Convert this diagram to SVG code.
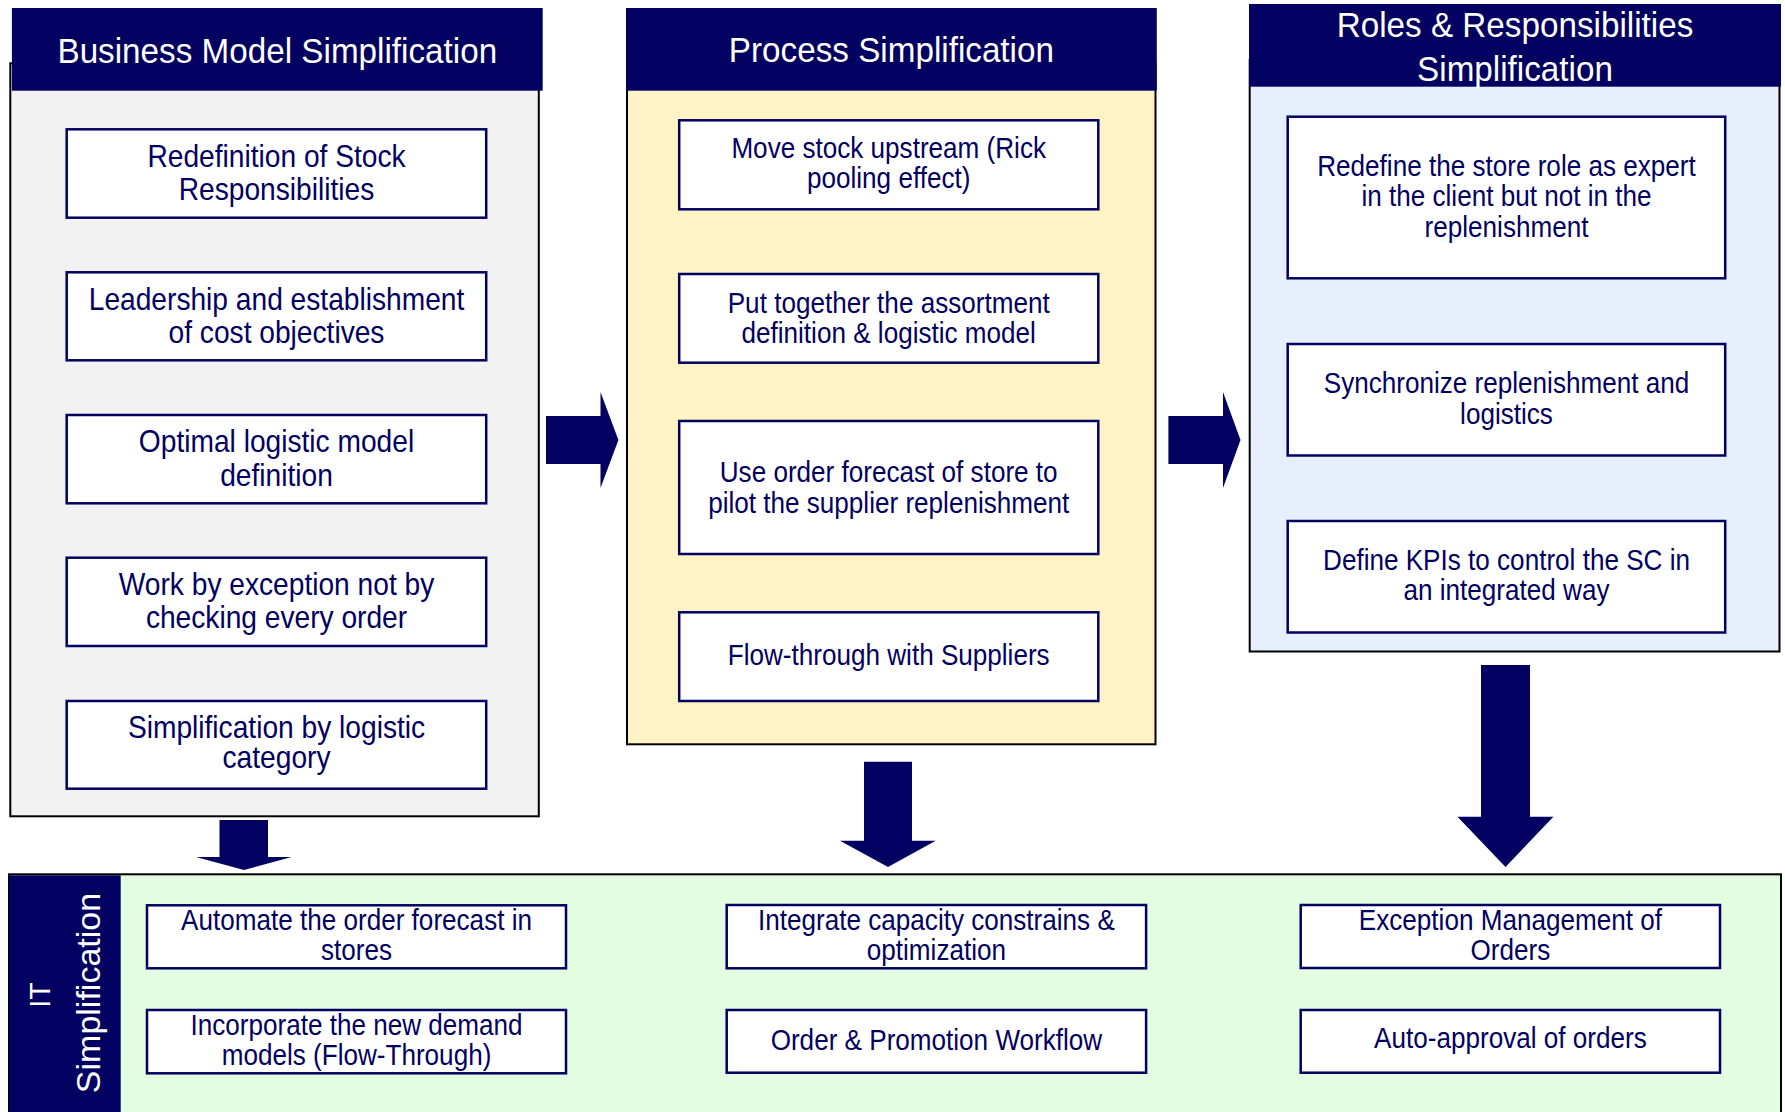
<svg xmlns="http://www.w3.org/2000/svg" width="1785" height="1112" viewBox="0 0 1785 1112">
  <style>
    .panel { stroke: #000000; stroke-width: 2; }
    .hdr { fill: #020060; }
    .box { fill: #ffffff; stroke: #020060; stroke-width: 2.5; }
    .arrow { fill: #020060; }
    text { font-family: "Liberation Sans", Arial, sans-serif; text-anchor: middle; }
    .ht { fill: #ffffff; font-size: 35px; }
    .t32 { fill: #020060; font-size: 32px; }
    .t29 { fill: #020060; font-size: 29px; }
    .vt { fill: #ffffff; font-size: 34px; }
    .vs { fill: #ffffff; font-size: 30px; }
  </style>

  <!-- Business Model Simplification column -->
  <g id="business-model">
    <rect class="panel" x="10.3" y="63.3" width="528.5" height="753" fill="#f2f2f2"/>
    <rect class="hdr" x="11.9" y="8" width="530.8" height="82.7"/>
    <g transform="translate(277.3 0) scale(0.95 1)">
      <text class="ht" x="0" y="63.3">Business Model Simplification</text>
    </g>
  </g>
  <g id="bm-stock">
    <rect class="box" x="66.7" y="129.3" width="419.5" height="88.4"/>
    <g transform="translate(276.5 0) scale(0.88 1)">
      <text class="t32"><tspan x="0" y="166.7">Redefinition of Stock</tspan><tspan x="0" y="200">Responsibilities</tspan></text>
    </g>
  </g>
  <g id="bm-leadership">
    <rect class="box" x="66.7" y="272.3" width="419.5" height="88"/>
    <g transform="translate(276.5 0) scale(0.88 1)">
      <text class="t32"><tspan x="0" y="310">Leadership and establishment</tspan><tspan x="0" y="343">of cost objectives</tspan></text>
    </g>
  </g>
  <g id="bm-logistic-model">
    <rect class="box" x="66.7" y="415" width="419.5" height="88.3"/>
    <g transform="translate(276.5 0) scale(0.88 1)">
      <text class="t32"><tspan x="0" y="452.3">Optimal logistic model</tspan><tspan x="0" y="486">definition</tspan></text>
    </g>
  </g>
  <g id="bm-exception">
    <rect class="box" x="66.7" y="557.7" width="419.5" height="88.3"/>
    <g transform="translate(276.5 0) scale(0.88 1)">
      <text class="t32"><tspan x="0" y="595">Work by exception not by</tspan><tspan x="0" y="628.3">checking every order</tspan></text>
    </g>
  </g>
  <g id="bm-category">
    <rect class="box" x="66.7" y="701" width="419.5" height="87.7"/>
    <g transform="translate(276.5 0) scale(0.88 1)">
      <text class="t32"><tspan x="0" y="738">Simplification by logistic</tspan><tspan x="0" y="768">category</tspan></text>
    </g>
  </g>

  <!-- Process Simplification column -->
  <g id="process">
    <rect class="panel" x="627" y="63.3" width="528.5" height="681" fill="#fff2c4"/>
    <rect class="hdr" x="626" y="8" width="530.8" height="82.7"/>
    <g transform="translate(891.4 0) scale(0.95 1)">
      <text class="ht" x="0" y="62">Process Simplification</text>
    </g>
  </g>
  <g id="pr-upstream">
    <rect class="box" x="679.2" y="120.3" width="419.1" height="89"/>
    <g transform="translate(888.7 0) scale(0.9 1)">
      <text class="t29"><tspan x="0" y="158.3">Move stock upstream (Rick</tspan><tspan x="0" y="188.3">pooling effect)</tspan></text>
    </g>
  </g>
  <g id="pr-assortment">
    <rect class="box" x="679.2" y="274" width="419.1" height="88.7"/>
    <g transform="translate(888.7 0) scale(0.9 1)">
      <text class="t29"><tspan x="0" y="313.3">Put together the assortment</tspan><tspan x="0" y="342.7">definition &amp; logistic model</tspan></text>
    </g>
  </g>
  <g id="pr-forecast">
    <rect class="box" x="679.2" y="421" width="419.1" height="133"/>
    <g transform="translate(888.7 0) scale(0.9 1)">
      <text class="t29"><tspan x="0" y="481.7">Use order forecast of store to</tspan><tspan x="0" y="512.7">pilot the supplier replenishment</tspan></text>
    </g>
  </g>
  <g id="pr-flow-through">
    <rect class="box" x="679.2" y="612.3" width="419.1" height="88.7"/>
    <g transform="translate(888.7 0) scale(0.9 1)">
      <text class="t29" x="0" y="665">Flow-through with Suppliers</text>
    </g>
  </g>

  <!-- Roles & Responsibilities Simplification column -->
  <g id="roles">
    <rect class="panel" x="1249.7" y="60" width="529.8" height="591.5" fill="#e8effc"/>
    <rect class="hdr" x="1249" y="4" width="532" height="82.7"/>
    <g transform="translate(1515 0) scale(0.95 1)">
      <text class="ht"><tspan x="0" y="37.5">Roles &amp; Responsibilities</tspan><tspan x="0" y="80.7">Simplification</tspan></text>
    </g>
  </g>
  <g id="ro-store-role">
    <rect class="box" x="1287.7" y="116.7" width="437.5" height="161.6"/>
    <g transform="translate(1506.5 0) scale(0.9 1)">
      <text class="t29"><tspan x="0" y="176">Redefine the store role as expert</tspan><tspan x="0" y="206">in the client but not in the</tspan><tspan x="0" y="236.7">replenishment</tspan></text>
    </g>
  </g>
  <g id="ro-synchronize">
    <rect class="box" x="1287.7" y="344" width="437.5" height="111.5"/>
    <g transform="translate(1506.5 0) scale(0.9 1)">
      <text class="t29"><tspan x="0" y="393.3">Synchronize replenishment and</tspan><tspan x="0" y="424.3">logistics</tspan></text>
    </g>
  </g>
  <g id="ro-kpis">
    <rect class="box" x="1287.7" y="521" width="437.5" height="111.5"/>
    <g transform="translate(1506.5 0) scale(0.9 1)">
      <text class="t29"><tspan x="0" y="570">Define KPIs to control the SC in</tspan><tspan x="0" y="600">an integrated way</tspan></text>
    </g>
  </g>

  <!-- IT Simplification band -->
  <g id="it">
    <rect class="panel" x="9" y="874.3" width="1772" height="250" fill="#e2fde0"/>
    <rect class="hdr" x="9" y="875.3" width="111.7" height="245"/>
    <g transform="translate(50 995) rotate(-90) scale(0.95 1)">
      <text class="vs" x="0" y="0">IT</text>
    </g>
    <g transform="translate(99.5 993) rotate(-90)">
      <text class="vt" x="0" y="0">Simplification</text>
    </g>
  </g>
  <g id="it-automate">
    <rect class="box" x="147" y="905.3" width="419" height="63"/>
    <g transform="translate(356.5 0) scale(0.9 1)">
      <text class="t29"><tspan x="0" y="930">Automate the order forecast in</tspan><tspan x="0" y="960.5">stores</tspan></text>
    </g>
  </g>
  <g id="it-demand-models">
    <rect class="box" x="147" y="1010" width="419" height="63.3"/>
    <g transform="translate(356.5 0) scale(0.9 1)">
      <text class="t29"><tspan x="0" y="1035">Incorporate the new demand</tspan><tspan x="0" y="1065">models (Flow-Through)</tspan></text>
    </g>
  </g>
  <g id="it-capacity">
    <rect class="box" x="726.7" y="905" width="419.4" height="63.3"/>
    <g transform="translate(936.4 0) scale(0.9 1)">
      <text class="t29"><tspan x="0" y="930">Integrate capacity constrains &amp;</tspan><tspan x="0" y="960">optimization</tspan></text>
    </g>
  </g>
  <g id="it-workflow">
    <rect class="box" x="726.7" y="1010" width="419.4" height="62.7"/>
    <g transform="translate(936.4 0) scale(0.9 1)">
      <text class="t29" x="0" y="1050">Order &amp; Promotion Workflow</text>
    </g>
  </g>
  <g id="it-exception">
    <rect class="box" x="1300.7" y="905" width="419.3" height="63"/>
    <g transform="translate(1510.4 0) scale(0.9 1)">
      <text class="t29"><tspan x="0" y="930">Exception Management of</tspan><tspan x="0" y="960">Orders</tspan></text>
    </g>
  </g>
  <g id="it-auto-approval">
    <rect class="box" x="1300.7" y="1010" width="419.3" height="62.7"/>
    <g transform="translate(1510.4 0) scale(0.9 1)">
      <text class="t29" x="0" y="1048.5">Auto-approval of orders</text>
    </g>
  </g>

  <!-- Block arrows between the stages -->
  <g id="connectors">
    <polygon class="arrow" points="546,416 600.5,416 600.5,392 618.4,440 600.5,488 600.5,464 546,464"/>
    <polygon class="arrow" points="1168.4,416 1223,416 1223,392 1240.5,440 1223,488 1223,464 1168.4,464"/>
    <polygon class="arrow" points="219.5,820 268,820 268,857 291.6,857 244,870 196,857 219.5,857"/>
    <polygon class="arrow" points="864,761.7 912,761.7 912,840.7 935.7,840.7 888,867 840,840.7 864,840.7"/>
    <polygon class="arrow" points="1481,665 1530,665 1530,816.7 1553.4,816.7 1505.5,867 1457.5,816.7 1481,816.7"/>
  </g>
</svg>
